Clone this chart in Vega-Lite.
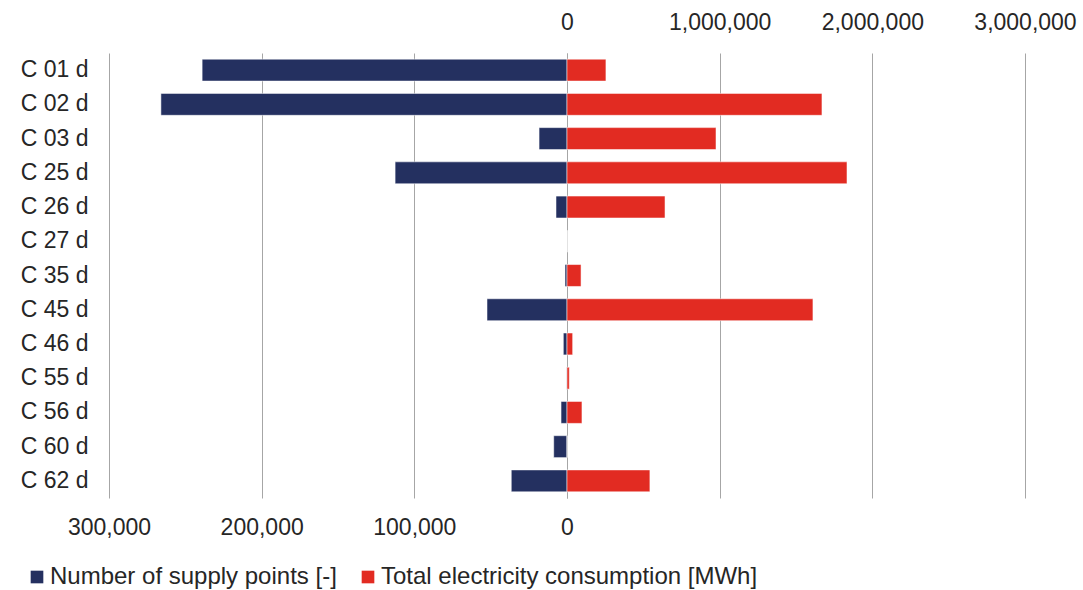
{
  "$schema": "https://vega.github.io/schema/vega-lite/v6.json",
  "width": 916,
  "height": 445,
  "autosize": {"type": "none"},
  "padding": {"left": 109, "top": 53, "right": 58, "bottom": 92},
  "background": "white",
  "config": {
    "view": {"stroke": null},
    "font": "Liberation Sans",
    "axis": {"labelFont": "Liberation Sans", "labelColor": "#262626", "labelFontSize": 23}
  },
  "data": {
    "values": [
      {"cat": "C 01 d", "supply": 239000, "consumption": 255000},
      {"cat": "C 02 d", "supply": 266000, "consumption": 1670000},
      {"cat": "C 03 d", "supply": 18300, "consumption": 976000},
      {"cat": "C 25 d", "supply": 112600, "consumption": 1834000},
      {"cat": "C 26 d", "supply": 7200, "consumption": 642000},
      {"cat": "C 27 d", "supply": 0, "consumption": 0},
      {"cat": "C 35 d", "supply": 1300, "consumption": 92000},
      {"cat": "C 45 d", "supply": 52400, "consumption": 1611000},
      {"cat": "C 46 d", "supply": 2400, "consumption": 37000},
      {"cat": "C 55 d", "supply": 200, "consumption": 15000},
      {"cat": "C 56 d", "supply": 3900, "consumption": 98000},
      {"cat": "C 60 d", "supply": 8700, "consumption": 0},
      {"cat": "C 62 d", "supply": 36500, "consumption": 543000}
    ]
  },
  "encoding": {
    "y": {
      "field": "cat",
      "type": "nominal",
      "sort": null,
      "title": null,
      "scale": {"paddingInner": 0.36, "paddingOuter": 0.18},
      "axis": {"domain": false, "ticks": false, "labelPadding": 21, "grid": false}
    }
  },
  "layer": [
    {
      "mark": {"type": "bar", "stroke": "#ffffff", "strokeWidth": 1, "strokeOpacity": 0.5},
      "encoding": {
        "x": {
          "field": "supply",
          "type": "quantitative",
          "title": null,
          "scale": {"domain": [-300000, 300000], "reverse": true, "nice": false},
          "axis": {
            "orient": "bottom",
            "values": [0, 100000, 200000, 300000],
            "format": ",.0f",
            "domain": false,
            "ticks": false,
            "grid": true,
            "gridColor": "#a6a6a6",
            "gridWidth": 1,
            "labelPadding": 18,
            "labelFlush": false
          }
        },
        "color": {
          "datum": "Number of supply points [-]",
          "type": "nominal",
          "scale": {
            "domain": ["Number of supply points [-]", "Total electricity consumption [MWh]"],
            "range": ["#243060", "#e22b22"]
          },
          "legend": {
            "title": null,
            "orient": "none",
            "direction": "horizontal",
            "legendX": -84,
            "legendY": 512,
            "symbolType": "square",
            "symbolSize": 160,
            "symbolStrokeWidth": 0,
            "labelFontSize": 24,
            "labelFont": "Liberation Sans",
            "labelColor": "#262626",
            "labelOffset": 1,
            "columnPadding": 19,
            "labelLimit": 500
          }
        }
      }
    },
    {
      "mark": {"type": "bar", "stroke": "#ffffff", "strokeWidth": 1, "strokeOpacity": 0.5},
      "encoding": {
        "x": {
          "field": "consumption",
          "type": "quantitative",
          "title": null,
          "scale": {"domain": [-3000000, 3000000], "nice": false},
          "axis": {
            "orient": "top",
            "values": [0, 1000000, 2000000, 3000000],
            "format": ",.0f",
            "domain": false,
            "ticks": false,
            "grid": true,
            "gridColor": "#a6a6a6",
            "gridWidth": 1,
            "labelPadding": 19,
            "labelFlush": false
          }
        },
        "color": {"datum": "Total electricity consumption [MWh]", "type": "nominal"}
      }
    }
  ],
  "resolve": {"scale": {"x": "independent"}, "axis": {"x": "independent"}}
}
